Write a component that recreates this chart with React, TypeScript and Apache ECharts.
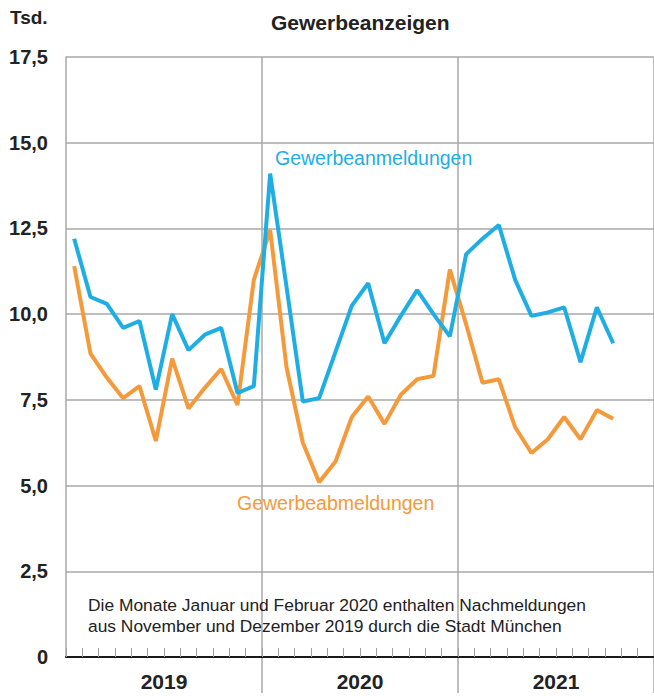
import React, { useEffect, useRef } from "react";
import * as echarts from "echarts";

const years = ["2019", "2020", "2021"];
const monthNames = ["Jan", "Feb", "Mär", "Apr", "Mai", "Jun", "Jul", "Aug", "Sep", "Okt", "Nov", "Dez"];
const months: string[] = years.flatMap((y) => monthNames.map((m) => `${m} ${y}`));

// Tsd. Gewerbeanmeldungen (Jan 2019 – Okt 2021)
const anmeldungen = [
  12.2, 10.5, 10.3, 9.6, 9.8, 7.8, 10.0, 8.95, 9.4, 9.6, 7.7, 7.9,
  14.1, 10.8, 7.45, 7.55, 8.9, 10.25, 10.9, 9.15, 9.95, 10.7, 10.0, 9.35,
  11.75, 12.2, 12.6, 11.0, 9.95, 10.05, 10.2, 8.6, 10.2, 9.15,
];
// Tsd. Gewerbeabmeldungen
const abmeldungen = [
  11.4, 8.85, 8.15, 7.55, 7.9, 6.3, 8.7, 7.25, 7.85, 8.4, 7.35, 11.0,
  12.45, 8.45, 6.25, 5.1, 5.7, 7.0, 7.6, 6.8, 7.65, 8.1, 8.2, 11.3,
  9.7, 8.0, 8.1, 6.7, 5.95, 6.35, 7.0, 6.35, 7.2, 6.95,
];
const yTicks = [0, 2.5, 5, 7.5, 10, 12.5, 15, 17.5];

const FONT = "Liberation Sans, Arial, sans-serif";
const BLUE = "#1eaee3";
const ORANGE = "#f59a3b";
const GRID = "#a8a8a8";
const TEXT = "#222222";

export default function App() {
  const ref = useRef<HTMLDivElement>(null);
  useEffect(() => {
    if (!ref.current) return;
    const chart = echarts.init(ref.current, null, { renderer: "svg" });
    chart.setOption({
      animation: false,
      backgroundColor: "#ffffff",
      textStyle: { fontFamily: FONT },
      title: {
        text: "Gewerbeanzeigen",
        left: 266,
        top: 7,
        textStyle: { fontFamily: FONT, fontSize: 21, fontWeight: "bold", color: TEXT },
      },
      grid: { left: 66, top: 57, width: 591, height: 600, containLabel: false },
      xAxis: [
        {
          type: "category",
          data: months,
          boundaryGap: true,
          axisLine: { show: true, lineStyle: { color: "#1a1a1a", width: 2 } },
          axisTick: { show: true, inside: true, length: 9, interval: 0, lineStyle: { color: "#a0a0a0", width: 1 } },
          axisLabel: { show: false },
          splitLine: {
            show: true,
            interval: (i: number) => i > 0 && i % 12 === 0,
            lineStyle: { color: GRID, width: 1.5 },
          },
          z: 3,
        },
        {
          type: "category",
          data: years,
          position: "bottom",
          boundaryGap: true,
          axisLine: { show: false },
          axisTick: {
            show: true,
            inside: false,
            length: 36,
            interval: (i: number) => i > 0,
            lineStyle: { color: GRID, width: 1.5 },
          },
          axisLabel: { show: true, margin: 14, fontSize: 21, fontWeight: "bold", color: TEXT, fontFamily: FONT },
          splitLine: { show: false },
        },
      ],
      yAxis: {
        type: "value",
        min: 0,
        max: 17.5,
        interval: 2.5,
        axisLine: { show: true, lineStyle: { color: GRID, width: 1.5 } },
        axisTick: { show: false },
        axisLabel: {
          margin: 18,
          fontSize: 20,
          fontWeight: "bold",
          color: TEXT,
          fontFamily: FONT,
          formatter: (v: number) => {
            const t = yTicks.find((x) => Math.abs(x - v) < 1e-6);
            const val = t === undefined ? v : t;
            return val === 0 ? "0" : val.toFixed(1).replace(".", ",");
          },
        },
        splitLine: { show: true, lineStyle: { color: GRID, width: 1.5 } },
      },
      series: [
        {
          name: "Gewerbeabmeldungen",
          type: "line",
          data: abmeldungen,
          symbol: "none",
          smooth: false,
          lineStyle: { color: ORANGE, width: 4 },
          itemStyle: { color: ORANGE },
          z: 4,
        },
        {
          name: "Gewerbeanmeldungen",
          type: "line",
          data: anmeldungen,
          symbol: "none",
          smooth: false,
          lineStyle: { color: BLUE, width: 4 },
          itemStyle: { color: BLUE },
          z: 5,
        },
      ],
      graphic: [
        {
          type: "text",
          left: 10,
          top: 8,
          style: { text: "Tsd.", fontFamily: FONT, fontSize: 19, fontWeight: "bold", fill: TEXT },
        },
        {
          type: "text",
          x: 275,
          y: 158,
          style: { text: "Gewerbeanmeldungen", fontFamily: FONT, fontSize: 19.5, fill: BLUE, verticalAlign: "middle" },
          z: 10,
        },
        {
          type: "text",
          x: 237,
          y: 503,
          style: { text: "Gewerbeabmeldungen", fontFamily: FONT, fontSize: 19.5, fill: ORANGE, verticalAlign: "middle" },
          z: 10,
        },
        {
          type: "text",
          x: 88,
          y: 605,
          style: {
            text: "Die Monate Januar und Februar 2020 enthalten Nachmeldungen",
            fontFamily: FONT,
            fontSize: 17.4,
            fill: TEXT,
            verticalAlign: "middle",
          },
          z: 10,
        },
        {
          type: "text",
          x: 88,
          y: 626,
          style: {
            text: "aus November und Dezember 2019 durch die Stadt München",
            fontFamily: FONT,
            fontSize: 17.4,
            fill: TEXT,
            verticalAlign: "middle",
          },
          z: 10,
        },
      ],
    });
    return () => chart.dispose();
  }, []);
  return (
    <div
      ref={ref}
      style={{ position: "absolute", left: 0, top: 0, width: 654, height: 696 }}
    />
  );
}
